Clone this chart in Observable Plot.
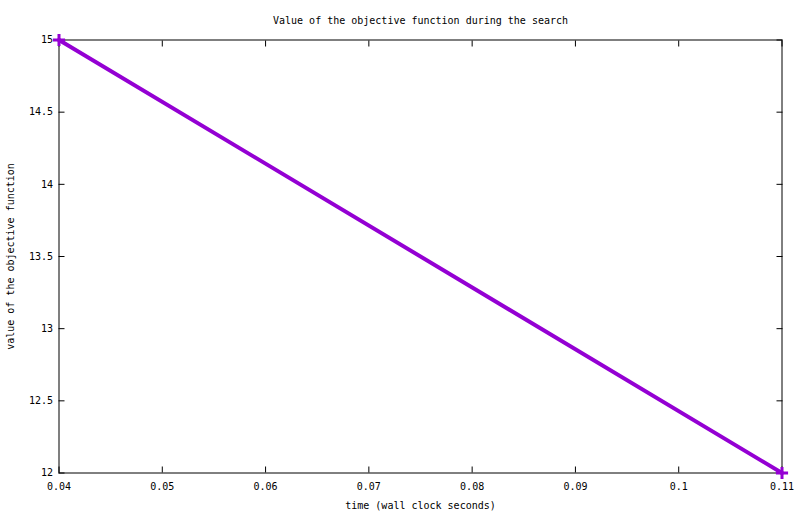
<!DOCTYPE html>
<html>
<head>
<meta charset="utf-8">
<script src="https://cdn.jsdelivr.net/npm/d3@7"></script>
<script src="https://cdn.jsdelivr.net/npm/@observablehq/plot@0.6"></script>
<style>
  html, body { margin: 0; padding: 0; background: #fff; }
  svg { display: block; }
</style>
</head>
<body>
<div id="chart"></div>
<script>
const times = [0.04, 0.11];
const values = [15, 12];
const xTicks = [0.04, 0.05, 0.06, 0.07, 0.08, 0.09, 0.1, 0.11];
const xTickLabels = ["0.04", "0.05", "0.06", "0.07", "0.08", "0.09", "0.1", "0.11"];
const yTicks = [12, 12.5, 13, 13.5, 14, 14.5, 15];
const yTickLabels = ["12", "12.5", "13", "13.5", "14", "14.5", "15"];
const titleText = "Value of the objective function during the search";
const xLabelText = "time (wall clock seconds)";
const yLabelText = "value of the objective function";

const data = times.map((t, i) => ({t, v: values[i]}));
const color = "#9400D3";
const font = "DejaVu Sans Mono, monospace";

const chart = Plot.plot({
  width: 800,
  height: 514,
  marginLeft: 58.5,
  marginRight: 18.5,
  marginTop: 39.5,
  marginBottom: 41.5,
  style: {fontFamily: font, fontSize: "10px", color: "#000", background: "#fff"},
  x: {domain: [0.04, 0.11]},
  y: {domain: [12, 15]},
  marks: [
    Plot.axisX({anchor: "bottom", ticks: xTicks, tickSize: -6, text: null, label: null}),
    Plot.axisX({anchor: "top", ticks: xTicks, tickSize: -6, text: null, label: null}),
    Plot.axisY({anchor: "left", ticks: yTicks, tickSize: -6, text: null, label: null}),
    Plot.axisY({anchor: "right", ticks: yTicks, tickSize: -6, text: null, label: null}),
    Plot.axisX({anchor: "bottom", ticks: xTicks, tickSize: 0, tickPadding: 10,
      tickFormat: (d) => xTickLabels[xTicks.indexOf(d)], label: null, fontSize: 10}),
    Plot.axisY({anchor: "left", ticks: yTicks, tickSize: 0, tickPadding: 6,
      tickFormat: (d) => yTickLabels[yTicks.indexOf(d)], label: null, fontSize: 10}),
    Plot.frame({stroke: "#000", strokeWidth: 1}),
    Plot.line(data, {x: "t", y: "v", stroke: color, strokeWidth: 4}),
    Plot.dot(data, {x: "t", y: "v", symbol: "plus", stroke: color, strokeWidth: 3, r: 4}),
    Plot.text([titleText], {frameAnchor: "top", dy: -19.5, lineAnchor: "middle", textAnchor: "middle",
      text: (d) => d, fontSize: 10, fill: "#000"}),
    Plot.text([xLabelText], {frameAnchor: "bottom", dy: 33, lineAnchor: "middle", textAnchor: "middle",
      text: (d) => d, fontSize: 10, fill: "#000"}),
    Plot.text([yLabelText], {frameAnchor: "left", dx: -48.5, rotate: -90, lineAnchor: "middle", textAnchor: "middle",
      text: (d) => d, fontSize: 10, fill: "#000"})
  ]
});
document.getElementById("chart").appendChild(chart);
</script>
</body>
</html>
